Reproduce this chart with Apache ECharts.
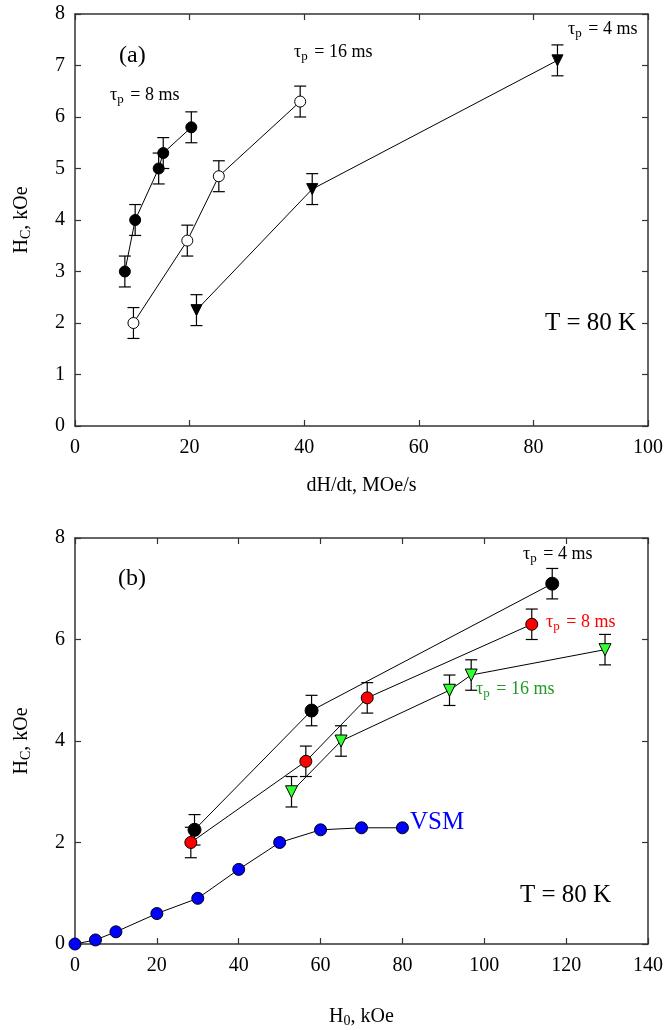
<!DOCTYPE html>
<html>
<head>
<meta charset="utf-8">
<script src="https://cdn.jsdelivr.net/npm/echarts@6/dist/echarts.min.js"></script>
<style>
  html, body { margin: 0; padding: 0; background: #fff; }
  #chart { width: 666px; height: 1030px; }
</style>
</head>
<body>
<div id="chart"></div>
<script>
// panel (a): Hc vs dH/dt
const a8X = [8.7, 10.5, 14.6, 15.4, 20.3];
const a8Y = [3.0, 4.0, 5.0, 5.3, 5.8];
const a16X = [10.2, 19.6, 25.1, 39.3];
const a16Y = [2.0, 3.6, 4.85, 6.3];
const a4X = [21.2, 41.4, 84.2];
const a4Y = [2.25, 4.6, 7.1];

// panel (b): Hc vs H0
const b4X = [29.2, 57.8, 116.6];
const b4Y = [2.25, 4.6, 7.1];
const b8X = [28.3, 56.4, 71.4, 111.6];
const b8Y = [2.0, 3.6, 4.85, 6.3];
const b16X = [52.9, 65.0, 91.5, 96.8, 129.5];
const b16Y = [3.0, 4.0, 5.0, 5.3, 5.8];
const vsmX = [0, 5, 10, 20, 30, 40, 50, 60, 70, 80];
const vsmY = [0, 0.08, 0.24, 0.6, 0.9, 1.47, 2.0, 2.25, 2.29, 2.29];

const errBar = 0.3;

const FONT = '"Liberation Serif", "DejaVu Serif", serif';

(function () {
  let dom = document.querySelector("#chart");
  let myChart = echarts.init(dom);

  const pairs = (xs, ys) => xs.map((x, i) => [x, ys[i]]);
  const errs = (xs, ys) => xs.map((x, i) => [x, ys[i], errBar]);

  // error bars with caps
  function renderErr(params, api) {
    const x = api.value(0), y = api.value(1), e = api.value(2);
    const hi = api.coord([x, y + e]);
    const lo = api.coord([x, y - e]);
    const w = 6;
    const st = { stroke: "#000", lineWidth: 1.2 };
    return {
      type: "group",
      children: [
        { type: "line", shape: { x1: hi[0], y1: hi[1], x2: lo[0], y2: lo[1] }, style: st },
        { type: "line", shape: { x1: hi[0] - w, y1: hi[1], x2: hi[0] + w, y2: hi[1] }, style: st },
        { type: "line", shape: { x1: lo[0] - w, y1: lo[1], x2: lo[0] + w, y2: lo[1] }, style: st }
      ]
    };
  }

  function axisX(grid, max, pos, name, gap) {
    return {
      gridIndex: grid,
      type: "value",
      position: pos,
      min: 0,
      max: max,
      interval: 20,
      name: pos === "bottom" ? name : "",
      nameLocation: "middle",
      nameGap: gap,
      nameTextStyle: {
        color: "#000", fontFamily: FONT, fontSize: 20,
        rich: { sub: { fontSize: 14, fontFamily: FONT, color: "#000", verticalAlign: "bottom", padding: [8, 0, 0, 0] } }
      },
      axisLine: { show: true, onZero: false, lineStyle: { color: "#333", width: 1.5 } },
      axisTick: { show: true, inside: true, length: 6, lineStyle: { color: "#333", width: 1.2 } },
      axisLabel: { show: pos === "bottom", color: "#000", fontFamily: FONT, fontSize: 20, margin: 12 },
      splitLine: { show: false }
    };
  }

  function axisY(grid, interval, pos, name) {
    return {
      gridIndex: grid,
      type: "value",
      position: pos,
      min: 0,
      max: 8,
      interval: interval,
      name: pos === "left" ? name : "",
      nameLocation: "middle",
      nameRotate: 90,
      nameGap: 42,
      nameTextStyle: {
        color: "#000", fontFamily: FONT, fontSize: 20,
        rich: { sub: { fontSize: 14, fontFamily: FONT, color: "#000", verticalAlign: "bottom", padding: [8, 0, 0, 0] } }
      },
      axisLine: { show: true, onZero: false, lineStyle: { color: "#333", width: 1.5 } },
      axisTick: { show: true, inside: true, length: 6, lineStyle: { color: "#333", width: 1.2 } },
      axisLabel: { show: pos === "left", color: "#000", fontFamily: FONT, fontSize: 20, margin: 10 },
      splitLine: { show: false }
    };
  }

  function lineSeries(xi, yi, data, symbol, size, fill) {
    return {
      type: "line",
      xAxisIndex: xi,
      yAxisIndex: yi,
      data: data,
      symbol: symbol,
      symbolSize: size,
      symbolRotate: symbol === "triangle" ? 180 : 0,
      showSymbol: true,
      z: 3,
      lineStyle: { color: "#000", width: 1 },
      itemStyle: { color: fill, borderColor: "#000", borderWidth: 1 }
    };
  }

  function errSeries(xi, yi, data) {
    return {
      type: "custom",
      xAxisIndex: xi,
      yAxisIndex: yi,
      renderItem: renderErr,
      data: data,
      z: 2,
      silent: true
    };
  }

  const tau = (txt, color, size) => ({
    type: "text",
    style: {
      text: "τ{p|p}" + txt,
      fill: color,
      font: size + "px " + FONT,
      rich: { p: { fontSize: Math.round(size * 0.72), fontFamily: FONT, fill: color, padding: [10, 2, 0, 0] } }
    }
  });

  function place(el, left, top) {
    el.left = left;
    el.top = top;
    return el;
  }

  const plain = (txt, color, size, left, top) => ({
    type: "text",
    left: left,
    top: top,
    style: { text: txt, fill: color, font: size + "px " + FONT }
  });

  let options = {
    animation: false,
    backgroundColor: "#fff",
    grid: [
      { left: 75, top: 14, width: 573, height: 412 },
      { left: 75, top: 538, width: 573, height: 406 }
    ],
    xAxis: [
      axisX(0, 100, "bottom", "dH/dt, MOe/s", 50),
      axisX(0, 100, "top", "", 0),
      axisX(1, 140, "bottom", "H{sub|0}, kOe", 62),
      axisX(1, 140, "top", "", 0)
    ],
    yAxis: [
      axisY(0, 1, "left", "H{sub|C}, kOe"),
      axisY(0, 1, "right", ""),
      axisY(1, 2, "left", "H{sub|C}, kOe"),
      axisY(1, 2, "right", "")
    ],
    series: [
      errSeries(0, 0, errs(a8X, a8Y)),
      errSeries(0, 0, errs(a16X, a16Y)),
      errSeries(0, 0, errs(a4X, a4Y)),
      lineSeries(0, 0, pairs(a8X, a8Y), "circle", 11, "#000"),
      lineSeries(0, 0, pairs(a16X, a16Y), "circle", 11, "#fff"),
      lineSeries(0, 0, pairs(a4X, a4Y), "triangle", 11, "#000"),

      errSeries(2, 2, errs(b4X, b4Y)),
      errSeries(2, 2, errs(b8X, b8Y)),
      errSeries(2, 2, errs(b16X, b16Y)),
      lineSeries(2, 2, pairs(vsmX, vsmY), "circle", 12, "#0000ff"),
      lineSeries(2, 2, pairs(b4X, b4Y), "circle", 13, "#000"),
      lineSeries(2, 2, pairs(b8X, b8Y), "circle", 12, "#ff0000"),
      lineSeries(2, 2, pairs(b16X, b16Y), "triangle", 12, "#33ff33")
    ],
    graphic: [
      plain("(a)", "#000", 24, 119, 44),
      place(tau(" = 8 ms", "#000", 18), 110, 86),
      place(tau(" = 16 ms", "#000", 18), 294, 43),
      place(tau(" = 4 ms", "#000", 18), 568, 20),
      plain("T = 80 K", "#000", 25, 545, 311),

      plain("(b)", "#000", 24, 118, 567),
      place(tau(" = 4 ms", "#000", 18), 523, 545),
      place(tau(" = 8 ms", "#ff0000", 18), 546, 613),
      place(tau(" = 16 ms", "#229922", 18), 476, 680),
      plain("VSM", "#0000ff", 25, 410, 810),
      plain("T = 80 K", "#000", 25, 520, 883)
    ]
  };

  myChart.setOption(options);
  window.addEventListener("resize", () => {
    myChart.resize();
  });
})();
</script>
</body>
</html>
